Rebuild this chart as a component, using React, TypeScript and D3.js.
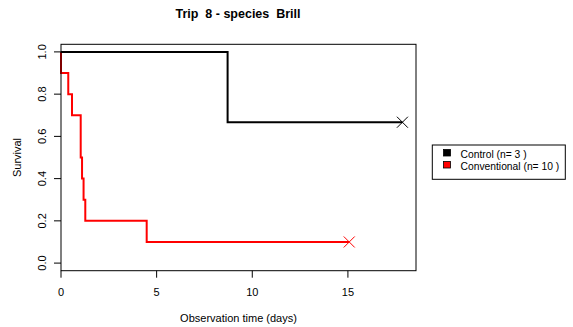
import React from "react";
import * as d3 from "d3";

const title = "Trip  8 - species  Brill";
const xTicks = [0, 5, 10, 15];
const yTicks = [0, 0.2, 0.4, 0.6, 0.8, 1.0];

const controlTimes = [0, 8.71, 17.85];
const controlSurv = [1, 0.667, 0.667];
const controlCensorTime = [17.85];
const controlCensorSurv = [0.667];

const convTimes = [0, 0, 0.38, 0.575, 1.03, 1.1, 1.18, 1.27, 4.48, 15.07];
const convSurv = [1, 0.9, 0.8, 0.7, 0.5, 0.4, 0.3, 0.2, 0.1, 0.1];
const convCensorTime = [15.07];
const convCensorSurv = [0.1];

const legendLabels = ["Control (n= 3 )", "Conventional (n= 10 )"];
const legendColors = ["#000000", "#ff0000"];

const W = 573, H = 327;
const L = 61, R = 416, T = 44.3, B = 270.7;
const font = "'Liberation Sans', Arial, sans-serif";

export default function App() {
  const x = d3.scaleLinear().domain([0, 18.56]).range([L, R]);
  const y = d3.scaleLinear().domain([-0.036, 1.036]).range([B, T]);
  const line = d3
    .line<[number, number]>()
    .x((d) => x(d[0]))
    .y((d) => y(d[1]))
    .curve(d3.curveStepAfter);
  const ctrl = controlTimes.map((t, i) => [t, controlSurv[i]] as [number, number]);
  const conv = convTimes.map((t, i) => [t, convSurv[i]] as [number, number]);
  const cross = (cx: number, cy: number, color: string, key: string) => {
    const s = 5.5;
    return (
      <g key={key} stroke={color} strokeWidth={1}>
        <line x1={cx - s} y1={cy - s} x2={cx + s} y2={cy + s} />
        <line x1={cx - s} y1={cy + s} x2={cx + s} y2={cy - s} />
      </g>
    );
  };
  return (
    <svg
      width={W}
      height={H}
      style={{ position: "absolute", left: 0, top: 0, background: "#fff" }}
      fontFamily={font}
    >
      <rect x={0} y={0} width={W} height={H} fill="#fff" />
      <text x={238} y={18} textAnchor="middle" fontSize={12.5} fontWeight="bold" fill="#000" style={{ whiteSpace: "pre" }}>
        {title}
      </text>
      <path d={line(conv) || ""} fill="none" stroke="#ff0000" strokeWidth={2} />
      <path d={line(ctrl) || ""} fill="none" stroke="#000" strokeWidth={2} />
      {controlCensorTime.map((t, i) => cross(x(t), y(controlCensorSurv[i]), "#000", "c" + i))}
      {convCensorTime.map((t, i) => cross(x(t), y(convCensorSurv[i]), "#ff0000", "v" + i))}
      <rect x={L} y={T} width={R - L} height={B - T} fill="none" stroke="#000" strokeWidth={1} />
      {xTicks.map((t) => (
        <g key={"x" + t}>
          <line x1={x(t)} x2={x(t)} y1={B} y2={B + 7} stroke="#000" />
          <text x={x(t)} y={295.5} textAnchor="middle" fontSize={11} fill="#000">
            {t}
          </text>
        </g>
      ))}
      {yTicks.map((t) => (
        <g key={"y" + t}>
          <line x1={L} x2={L - 7} y1={y(t)} y2={y(t)} stroke="#000" />
          <text
            transform={`translate(45.5,${y(t)}) rotate(-90)`}
            textAnchor="middle"
            fontSize={11}
            fill="#000"
          >
            {t.toFixed(1)}
          </text>
        </g>
      ))}
      <text x={238.5} y={321.5} textAnchor="middle" fontSize={11} fill="#000">
        Observation time (days)
      </text>
      <text transform={`translate(21,157.5) rotate(-90)`} textAnchor="middle" fontSize={11} fill="#000">
        Survival
      </text>
      <rect x={432.3} y={145} width={133} height={34.3} fill="#fff" stroke="#000" strokeWidth={1} />
      {legendLabels.map((lab, i) => (
        <g key={lab}>
          <rect x={443.5} y={149.5 + i * 12} width={7} height={6.5} fill={legendColors[i]} stroke="#000" strokeWidth={0.8} />
          <text x={460.5} y={157.5 + i * 12} fontSize={10.3} fill="#000" style={{ whiteSpace: "pre" }}>
            {lab}
          </text>
        </g>
      ))}
    </svg>
  );
}
